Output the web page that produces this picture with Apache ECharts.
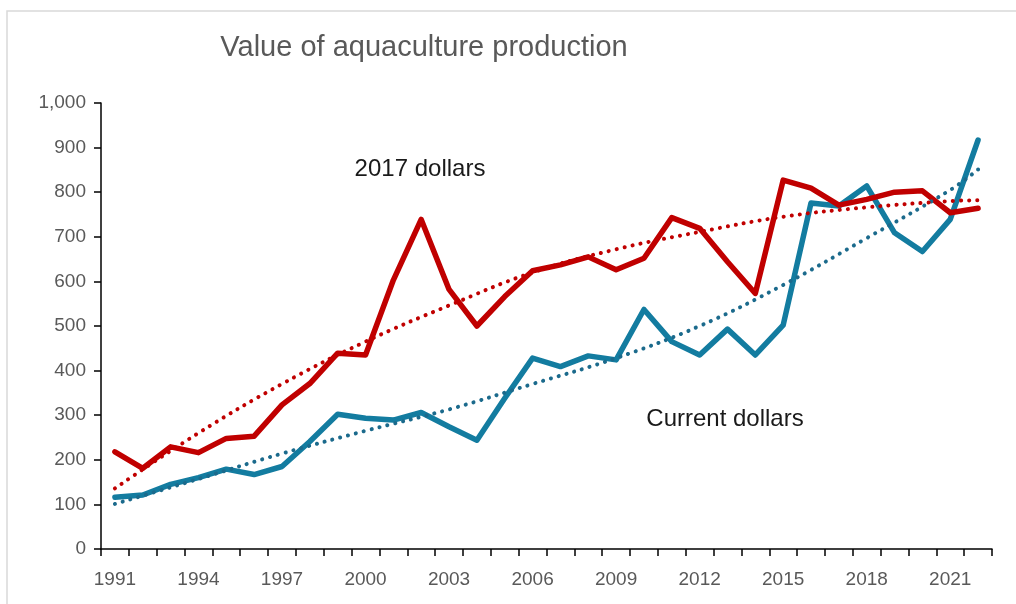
<!DOCTYPE html>
<html>
<head>
<meta charset="utf-8">
<script src="https://cdn.jsdelivr.net/npm/echarts@6/dist/echarts.min.js"></script>
<style>
  html, body { margin: 0; padding: 0; background: #ffffff; }
  #chart { width: 1016px; height: 604px; }
</style>
</head>
<body>
<div id="chart"></div>
<script>
// Years on the horizontal axis
const years = [];
for (let y = 1991; y <= 2022; y++) years.push(String(y));

// Value of aquaculture production, million dollars
const realDollars2017 = [218, 181, 229, 216, 248, 253, 323, 371, 439, 435, 603, 739, 582, 500, 566, 624,
                         637, 655, 626, 652, 743, 719, 644, 573, 827, 809, 771, 784, 800, 803, 754, 764];
const currentDollars = [116, 121, 145, 160, 179, 167, 185, 241, 302, 293, 289, 306, 274, 244, 338, 428,
                        409, 433, 424, 537, 465, 435, 493, 435, 502, 776, 769, 814, 709, 667, 739, 917];

// Trend lines, sampled at these years
const trendYears = ['1991', '1994', '1997', '2000', '2003', '2006', '2009', '2012', '2015', '2018', '2021', '2022'];
const realTrend = [136, 260, 370, 465, 546, 620, 672, 711, 745, 766, 780, 782];
const currentTrend = [101, 157, 214, 265, 313, 370, 428, 500, 592, 697, 805, 851];

const RED = '#C00000';
const BLUE = '#137CA0';
const BLUE_DOT = '#1B6A8C';
const labelFont = 'Liberation Sans';

const chart = echarts.init(document.getElementById('chart'), null, { renderer: 'canvas' });

chart.setOption({
  animation: false,
  backgroundColor: '#ffffff',
  grid: { left: 101, right: 24, top: 103, bottom: 55, containLabel: false },
  xAxis: {
    type: 'category',
    data: years,
    boundaryGap: true,
    axisLine: { lineStyle: { color: '#000000', width: 1.5 } },
    axisTick: { show: true, length: 7, interval: 0, lineStyle: { color: '#000000', width: 1.5 } },
    axisLabel: { interval: 2, color: '#595959', fontSize: 19, fontFamily: labelFont, margin: 21 },
    splitLine: { show: false }
  },
  yAxis: {
    type: 'value',
    min: 0,
    max: 1000,
    interval: 100,
    axisLine: { show: true, lineStyle: { color: '#000000', width: 1.5 } },
    axisTick: { show: true, length: 7, lineStyle: { color: '#000000', width: 1.5 } },
    axisLabel: {
      color: '#595959', fontSize: 19, fontFamily: labelFont, margin: 15,
      formatter: v => v.toLocaleString('en-US')
    },
    splitLine: { show: false }
  },
  graphic: [
    {
      type: 'rect', silent: true, z: -1,
      shape: { x: 7, y: 11, width: 1040, height: 640 },
      style: { fill: 'none', stroke: '#d9d9d9', lineWidth: 1.5 }
    },
    {
      type: 'text', silent: true,
      style: {
        text: 'Value of aquaculture production', x: 424, y: 48,
        textAlign: 'center', textVerticalAlign: 'middle',
        fill: '#595959', font: '29px "Liberation Sans"'
      }
    },
    {
      type: 'text', silent: true,
      style: {
        text: '2017 dollars', x: 420, y: 169,
        textAlign: 'center', textVerticalAlign: 'middle',
        fill: '#1a1a1a', font: '24px "Liberation Sans"'
      }
    },
    {
      type: 'text', silent: true,
      style: {
        text: 'Current dollars', x: 725, y: 419,
        textAlign: 'center', textVerticalAlign: 'middle',
        fill: '#1a1a1a', font: '24px "Liberation Sans"'
      }
    }
  ],
  series: [
    {
      name: 'Current dollars',
      type: 'line',
      data: currentDollars,
      showSymbol: false,
      lineStyle: { color: BLUE, width: 5.5, join: 'round', cap: 'round' },
      z: 2
    },
    {
      name: '2017 dollars',
      type: 'line',
      data: realDollars2017,
      showSymbol: false,
      lineStyle: { color: RED, width: 5.5, join: 'round', cap: 'round' },
      z: 3
    },
    {
      name: 'Current dollars trend',
      type: 'line',
      data: trendYears.map((y, i) => [y, currentTrend[i]]),
      smooth: 0.4,
      showSymbol: false,
      lineStyle: { color: BLUE_DOT, width: 4, type: [0.1, 8], cap: 'round' },
      z: 4
    },
    {
      name: '2017 dollars trend',
      type: 'line',
      data: trendYears.map((y, i) => [y, realTrend[i]]),
      smooth: 0.4,
      showSymbol: false,
      lineStyle: { color: RED, width: 4, type: [0.1, 8], cap: 'round' },
      z: 4
    }
  ]
});
</script>
</body>
</html>
